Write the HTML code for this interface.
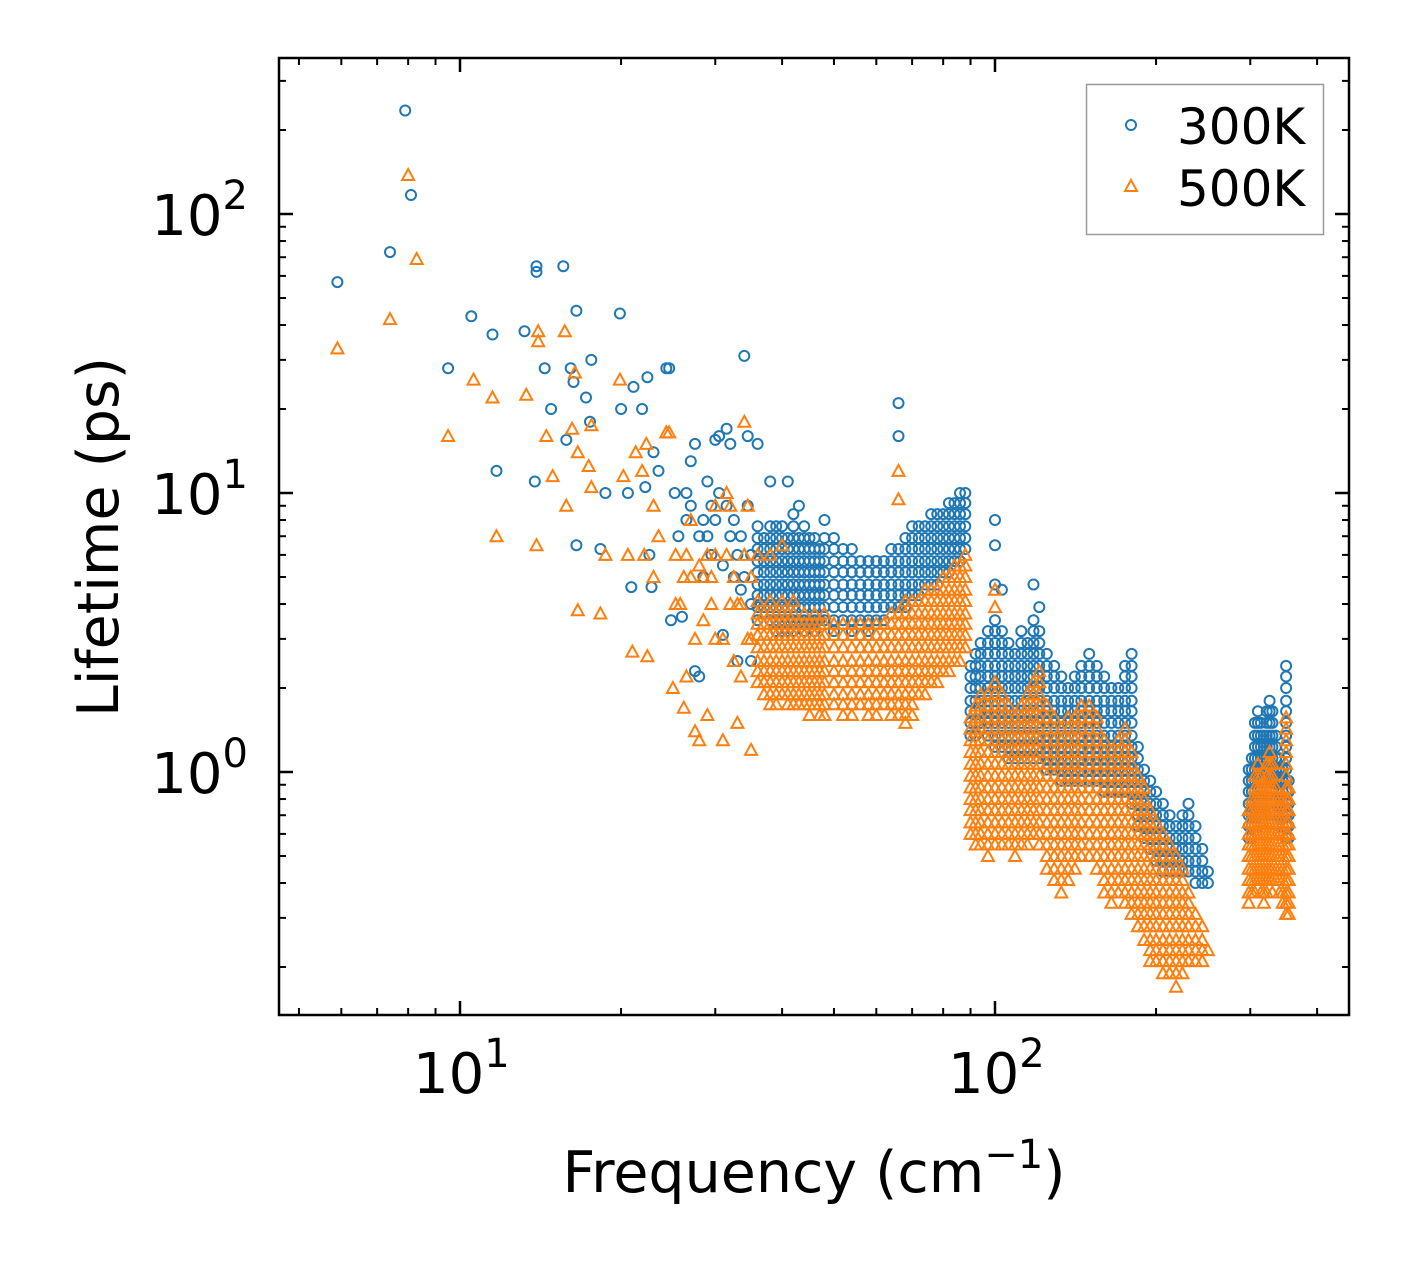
<!DOCTYPE html>
<html><head><meta charset="utf-8">
<style>
html,body{margin:0;padding:0;background:#fff;}
svg{display:block;font-family:"DejaVu Sans","Liberation Sans",sans-serif;}
</style></head>
<body>
<svg id="chart" width="1408" height="1265" viewBox="0 0 1408 1265" xmlns="http://www.w3.org/2000/svg">
<rect width="1408" height="1265" fill="#fff"/>
<g id="marks"></g>
<g id="axes"></g>
<g>
<rect x="1086.5" y="84.5" width="237" height="150" fill="#fff" fill-opacity="0.8" stroke="#999" stroke-width="1.5"/>
<circle cx="1131" cy="125" r="5" fill="none" stroke="#1f77b4" stroke-width="2"/>
<text x="1177" y="144" font-size="50">300K</text>
<path d="M1131,180 L1137,191 L1125,191 Z" fill="none" stroke="#ff7f0e" stroke-width="2"/>
<text x="1177" y="206" font-size="50">500K</text>
</g>
<text x="814" y="1192" font-size="57" text-anchor="middle">Frequency (cm<tspan dy="-24" font-size="40">−1</tspan><tspan dy="24">)</tspan></text>
<text transform="translate(118,537) rotate(-90)" font-size="57" text-anchor="middle">Lifetime (ps)</text>
</svg>
<script>
// Data: [frequency (cm^-1), [lifetimes (ps)...]]
const series300 = [
[5.9,[57]],[7.4,[73]],[7.9,[235]],[8.1,[117]],[9.5,[28]],[10.5,[43]],[11.5,[37]],[11.7,[12]],
[13.2,[38]],[13.8,[11]],[13.9,[65,62]],[14.4,[28]],[14.8,[20]],[15.6,[65]],[15.8,[15.5]],[16.1,[28]],
[16.3,[25]],[16.5,[45,6.5]],[17.2,[22]],[17.5,[18]],[17.6,[30]],[18.3,[6.3]],[18.7,[10]],[19.9,[44]],
[20,[20]],[20.6,[10]],[20.9,[4.6]],[21.1,[24]],[21.9,[20]],[22.2,[10.5]],[22.4,[26]],[22.6,[6]],[22.8,[4.6]],
[23,[14]],[23.5,[12]],[24.3,[28]],[24.6,[28]],[24.8,[3.5]],[25.2,[10]],[25.6,[7]],[26,[3.6]],[26.5,[10,8]],
[27,[13,9]],[27.5,[15,2.3]],[28,[2.2,7]],[28.5,[8,5]],[29,[11,7]],[29.5,[9,6]],[30,[15.5,8]],[30.5,[16,10]],
[31,[3.1,5.5]],[31.5,[17,9]],[32,[15,7]],[32.5,[8,5]],[33,[2.5,6]],[33.5,[7,4.5]],[34,[31,5]],[34.5,[16,9]],
[35,[6,4,2.5]],
[36,[3.5,3.9,4.3,4.7,5.2,5.7,6.3,6.9,7.6,15]],[37,[3.9,4.3,4.7,5.2,5.7,6.3,6.9]],
[38,[3.5,3.9,4.3,4.7,5.2,5.7,6.3,6.9,7.6,11]],[39,[3.2,3.5,3.9,4.3,4.7,5.2,5.7,6.3,6.9,7.6]],
[40,[3.2,3.5,3.9,4.3,4.7,5.2,5.7,6.3,6.9,7.6]],[41,[3.2,3.5,3.9,4.3,4.7,5.2,5.7,6.3,6.9,11]],
[42,[3.2,3.5,3.9,4.3,4.7,5.2,5.7,6.3,6.9,7.6,8.4]],[43,[3.5,3.9,4.3,4.7,5.2,5.7,6.3,6.9,9]],
[44,[3.2,3.5,3.9,4.3,4.7,5.2,5.7,6.3,6.9,7.6]],[45,[3.5,3.9,4.3,4.7,5.2,5.7,6.3,6.9]],
[46,[3.2,3.5,3.9,4.3,4.7,5.2,5.7,6.3,6.9]],[47,[3.5,3.9,4.3,4.7,5.2,5.7,6.3]],
[48,[3.5,3.9,4.3,4.7,5.2,5.7,6.3,6.9,8]],[50,[3.2,3.5,3.9,4.3,4.7,5.2,5.7,6.3,6.9]],
[52,[3.5,3.9,4.3,4.7,5.2,5.7,6.3]],[54,[3.2,3.5,3.9,4.3,4.7,5.2,5.7,6.3]],
[56,[3.5,3.9,4.3,4.7,5.2,5.7]],[58,[3.2,3.5,3.9,4.3,4.7,5.2,5.7]],[60,[3.5,3.9,4.3,4.7,5.2,5.7]],
[62,[3.5,3.9,4.3,4.7,5.2,5.7]],[64,[3.9,4.3,4.7,5.2,5.7,6.3]],[66,[3.9,4.3,4.7,5.2,5.7,6.3,16,21]],
[68,[3.9,4.3,4.7,5.2,5.7,6.3,6.9]],[70,[4.3,4.7,5.2,5.7,6.3,6.9,7.6]],[72,[4.3,4.7,5.2,5.7,6.3,6.9,7.6]],
[74,[4.7,5.2,5.7,6.3,6.9,7.6]],[76,[4.7,5.2,5.7,6.3,6.9,7.6,8.4]],[78,[4.7,5.2,5.7,6.3,6.9,7.6,8.4]],
[80,[5.2,5.7,6.3,6.9,7.6,8.4]],[82,[5.2,5.7,6.3,6.9,7.6,8.4,9.2]],[84,[5.7,6.3,6.9,7.6,8.4,9.2]],
[86,[5.7,6.3,6.9,7.6,8.4,9.2,10]],[88,[6.3,6.9,7.6,8.4,9.2,10]],
[90,[1.35,1.5,1.65,1.8,2,2.2,2.4]],[92,[1.35,1.5,1.65,1.8,2,2.2,2.4,2.65]],
[94,[1.5,1.65,1.8,2,2.2,2.4,2.65,2.9]],[97,[1.35,1.5,1.65,1.8,2,2.2,2.4,2.65,2.9,3.2]],
[100,[1.23,1.35,1.5,1.65,1.8,2,2.2,2.4,2.65,2.9,3.2,3.5,4.7,6.5,8]],
[103,[1.23,1.35,1.5,1.65,1.8,2,2.2,2.4,2.65,2.9,3.2,4.5]],[106,[1.12,1.23,1.35,1.5,1.65,1.8,2,2.2,2.4,2.65,2.9]],
[109,[1.12,1.23,1.35,1.5,1.65,1.8,2,2.2,2.4,2.65]],[112,[1.12,1.23,1.35,1.5,1.65,1.8,2,2.2,2.4,2.65,2.9,3.2]],
[115,[1.12,1.23,1.35,1.5,1.65,1.8,2,2.2,2.4,2.65,2.9]],[118,[1.12,1.23,1.35,1.5,1.65,1.8,2,2.2,2.4,2.65,2.9,3.2,3.5,4.7]],
[121,[1.12,1.23,1.35,1.5,1.65,1.8,2,2.2,2.4,2.65,2.9,3.2,3.9]],[125,[1.02,1.12,1.23,1.35,1.5,1.65,1.8,2,2.2,2.4,2.65]],
[129,[1.02,1.12,1.23,1.35,1.5,1.65,1.8,2,2.2,2.4]],[133,[0.93,1.02,1.12,1.23,1.35,1.5,1.65,1.8,2,2.2]],
[137,[0.93,1.02,1.12,1.23,1.35,1.5,1.65,1.8,2]],[141,[0.93,1.02,1.12,1.23,1.35,1.5,1.65,1.8,2,2.2]],
[145,[0.93,1.02,1.12,1.23,1.35,1.5,1.65,1.8,2,2.2,2.4]],[150,[0.93,1.02,1.12,1.23,1.35,1.5,1.65,1.8,2,2.2,2.4,2.65]],
[155,[0.93,1.02,1.12,1.23,1.35,1.5,1.65,1.8,2,2.2,2.4]],[160,[0.85,0.93,1.02,1.12,1.23,1.35,1.5,1.65,1.8,2,2.2]],
[165,[0.85,0.93,1.02,1.12,1.23,1.35,1.5,1.65,1.8,2]],[170,[0.85,0.93,1.02,1.12,1.23,1.35,1.5,1.65,1.8,2]],
[175,[0.85,0.93,1.02,1.12,1.23,1.35,1.5,1.65,1.8,2,2.2,2.4]],[180,[0.77,0.85,0.93,1.02,1.12,1.23,1.35,1.5,1.65,1.8,2,2.2,2.4,2.65]],
[185,[0.64,0.7,0.77,0.85,0.93,1.02,1.12,1.23]],[190,[0.58,0.64,0.7,0.77,0.85,0.93,1.02]],
[195,[0.53,0.58,0.64,0.7,0.77,0.85,0.93]],[200,[0.48,0.53,0.58,0.64,0.7,0.77,0.85]],
[206,[0.44,0.48,0.53,0.58,0.64,0.7,0.77]],[212,[0.44,0.48,0.53,0.58,0.64,0.7]],
[218,[0.44,0.48,0.53,0.58,0.64]],[224,[0.44,0.48,0.53,0.58,0.64,0.7]],[230,[0.44,0.48,0.53,0.58,0.64,0.7,0.77]],
[237,[0.4,0.44,0.48,0.53,0.58,0.64]],[244,[0.4,0.44,0.48,0.53]],[250,[0.4,0.44]],
[298,[0.58,0.64,0.7,0.77,0.85,0.93,1.02]],[302,[0.58,0.64,0.7,0.77,0.85,0.93,1.02,1.12]],
[306,[0.64,0.7,0.77,0.85,0.93,1.02,1.12,1.23,1.35,1.5]],[310,[0.64,0.7,0.77,0.85,0.93,1.02,1.12,1.23,1.35,1.5,1.65]],
[314,[0.7,0.77,0.85,0.93,1.02,1.12,1.23,1.35,1.5]],[318,[0.7,0.77,0.85,0.93,1.02,1.12,1.23,1.35]],
[322,[0.7,0.77,0.85,0.93,1.02,1.12,1.23,1.35,1.5,1.65]],[326,[0.77,0.85,0.93,1.02,1.12,1.23,1.35,1.5,1.65,1.8]],
[330,[0.77,0.85,0.93,1.02,1.12,1.23,1.35,1.5,1.65]],[335,[0.7,0.77,0.85,0.93,1.02,1.12,1.23,1.35]],
[340,[0.64,0.7,0.77,0.85,0.93,1.02,1.12]],[345,[0.64,0.7,0.77,0.85,0.93,1.02]],
[350,[0.58,0.64,0.7,0.77,0.85,0.93,1.02,1.12,1.23,1.35,1.5,1.65,1.8,2,2.2,2.4]],[354,[0.58,0.64,0.7,0.77,0.85,0.93]]
];
const series500 = [
[5.9,[33]],[7.4,[42]],[8,[138]],[8.3,[69]],[9.5,[16]],[10.6,[25.5]],[11.5,[22]],[11.7,[7]],
[13.3,[22.5]],[13.9,[6.5]],[14,[38,35]],[14.5,[16]],[14.9,[11.5]],[15.7,[38]],[15.8,[9]],[16.2,[17]],
[16.4,[27]],[16.6,[14,3.8]],[17.4,[12.5]],[17.6,[17.5,10.5]],[18.3,[3.7]],[18.7,[6]],[19.9,[25.5]],
[20.2,[11.5]],[20.6,[6]],[21,[2.7]],[21.3,[14]],[21.9,[12]],[22.1,[6]],[22.3,[15]],[22.4,[2.6]],
[23,[9,5]],[23.5,[7]],[24.3,[16.5]],[24.6,[16.5]],[25,[2]],[25.3,[6,4]],[25.8,[4]],[26.2,[1.7,5]],
[26.5,[6,2.2]],[27,[8,5]],[27.5,[1.4,3]],[28,[1.3,5.5]],[28.5,[5,3.5]],[29,[6,1.6]],[29.5,[4,5]],
[30,[9,6,3]],[31,[1.3,3]],[31.5,[10,6]],[32,[9,4]],[32.5,[5,2.5]],[33,[1.5,4]],[33.5,[4,2.2]],
[34,[18,6]],[34.5,[9,3]],[35,[3,1.2,5]],
[36,[2.1,2.3,2.5,2.8,3.1,3.4,3.7,4.1,6]],[37,[1.9,2.1,2.3,2.5,2.8,3.1,3.4,3.7]],
[38,[1.75,1.9,2.1,2.3,2.5,2.8,3.1,3.4,3.7,4.1,6]],[39,[1.75,1.9,2.1,2.3,2.5,2.8,3.1,3.4,3.7]],
[40,[1.9,2.1,2.3,2.5,2.8,3.1,3.4,3.7,4.1,6.5]],[41,[1.75,1.9,2.1,2.3,2.5,2.8,3.1,3.4,3.7]],
[42,[1.75,1.9,2.1,2.3,2.5,2.8,3.1,3.4,3.7,4.1]],[43,[1.75,1.9,2.1,2.3,2.5,2.8,3.1,3.4]],
[44,[1.75,1.9,2.1,2.3,2.5,2.8,3.1,3.4,3.7]],[45,[1.6,1.75,1.9,2.1,2.3,2.5,2.8,3.1,3.4]],
[46,[1.75,1.9,2.1,2.3,2.5,2.8,3.1,3.4,3.7]],[47,[1.6,1.75,1.9,2.1,2.3,2.5,2.8,3.1,3.4]],
[48,[1.6,1.75,1.9,2.1,2.3,2.5,2.8,3.1,3.4,3.7]],[50,[1.75,1.9,2.1,2.3,2.5,2.8,3.1,3.4]],
[52,[1.6,1.75,1.9,2.1,2.3,2.5,2.8,3.1,3.4]],[54,[1.6,1.75,1.9,2.1,2.3,2.5,2.8,3.1,3.4]],
[56,[1.75,1.9,2.1,2.3,2.5,2.8,3.1,3.4]],[58,[1.6,1.75,1.9,2.1,2.3,2.5,2.8,3.1,3.4]],
[60,[1.6,1.75,1.9,2.1,2.3,2.5,2.8,3.1,3.4]],[62,[1.75,1.9,2.1,2.3,2.5,2.8,3.1,3.4]],
[64,[1.6,1.75,1.9,2.1,2.3,2.5,2.8,3.1,3.4,3.7]],[66,[1.6,1.75,1.9,2.1,2.3,2.5,2.8,3.1,3.4,3.7,9.5,12]],
[68,[1.5,1.6,1.75,1.9,2.1,2.3,2.5,2.8,3.1,3.4,3.7,4.1]],[70,[1.6,1.75,1.9,2.1,2.3,2.5,2.8,3.1,3.4,3.7,4.1]],
[72,[1.9,2.1,2.3,2.5,2.8,3.1,3.4,3.7,4.1]],[74,[1.9,2.1,2.3,2.5,2.8,3.1,3.4,3.7,4.1,4.5]],
[76,[2.1,2.3,2.5,2.8,3.1,3.4,3.7,4.1,4.5]],[78,[2.1,2.3,2.5,2.8,3.1,3.4,3.7,4.1,4.5]],
[80,[2.3,2.5,2.8,3.1,3.4,3.7,4.1,4.5,5]],[82,[2.3,2.5,2.8,3.1,3.4,3.7,4.1,4.5,5]],
[84,[2.5,2.8,3.1,3.4,3.7,4.1,4.5,5,5.5]],[86,[2.5,2.8,3.1,3.4,3.7,4.1,4.5,5,5.5]],
[88,[2.8,3.1,3.4,3.7,4.1,4.5,5,5.5,6]],
[90,[0.6,0.66,0.73,0.8,0.88,0.97,1.07,1.18,1.3,1.43,1.57]],[92,[0.55,0.6,0.66,0.73,0.8,0.88,0.97,1.07,1.18,1.3,1.43,1.57,1.73]],
[94,[0.55,0.6,0.66,0.73,0.8,0.88,0.97,1.07,1.18,1.3,1.43,1.57,1.73,1.9]],
[97,[0.5,0.55,0.6,0.66,0.73,0.8,0.88,0.97,1.07,1.18,1.3,1.43,1.57,1.73,1.9]],
[100,[0.55,0.6,0.66,0.73,0.8,0.88,0.97,1.07,1.18,1.3,1.43,1.57,1.73,1.9,2.1,3.9,4.5]],
[103,[0.55,0.6,0.66,0.73,0.8,0.88,0.97,1.07,1.18,1.3,1.43,1.57,1.73,1.9]],
[106,[0.55,0.6,0.66,0.73,0.8,0.88,0.97,1.07,1.18,1.3,1.43,1.57,1.73]],
[109,[0.5,0.55,0.6,0.66,0.73,0.8,0.88,0.97,1.07,1.18,1.3,1.43,1.57]],
[112,[0.55,0.6,0.66,0.73,0.8,0.88,0.97,1.07,1.18,1.3,1.43,1.57,1.73]],
[115,[0.55,0.6,0.66,0.73,0.8,0.88,0.97,1.07,1.18,1.3,1.43,1.57,1.73,1.9]],
[118,[0.6,0.66,0.73,0.8,0.88,0.97,1.07,1.18,1.3,1.43,1.57,1.73,1.9,2.1]],
[121,[0.55,0.6,0.66,0.73,0.8,0.88,0.97,1.07,1.18,1.3,1.43,1.57,1.73,1.9,2.1,2.3]],
[125,[0.45,0.5,0.55,0.6,0.66,0.73,0.8,0.88,0.97,1.07,1.18,1.3,1.43,1.57,1.73]],
[129,[0.41,0.45,0.5,0.55,0.6,0.66,0.73,0.8,0.88,0.97,1.07,1.18,1.3,1.43,1.57]],
[133,[0.37,0.41,0.45,0.5,0.55,0.6,0.66,0.73,0.8,0.88,0.97,1.07,1.18,1.3,1.43]],
[137,[0.41,0.45,0.5,0.55,0.6,0.66,0.73,0.8,0.88,0.97,1.07,1.18,1.3,1.43,1.57]],
[141,[0.45,0.5,0.55,0.6,0.66,0.73,0.8,0.88,0.97,1.07,1.18,1.3,1.43,1.57]],
[145,[0.5,0.55,0.6,0.66,0.73,0.8,0.88,0.97,1.07,1.18,1.3,1.43,1.57,1.73]],
[150,[0.5,0.55,0.6,0.66,0.73,0.8,0.88,0.97,1.07,1.18,1.3,1.43,1.57,1.73]],
[155,[0.45,0.5,0.55,0.6,0.66,0.73,0.8,0.88,0.97,1.07,1.18,1.3,1.43,1.57]],
[160,[0.37,0.41,0.45,0.5,0.55,0.6,0.66,0.73,0.8,0.88,0.97,1.07,1.18,1.3]],
[165,[0.34,0.37,0.41,0.45,0.5,0.55,0.6,0.66,0.73,0.8,0.88,0.97,1.07,1.18]],
[170,[0.37,0.41,0.45,0.5,0.55,0.6,0.66,0.73,0.8,0.88,0.97,1.07,1.18,1.3]],
[175,[0.34,0.37,0.41,0.45,0.5,0.55,0.6,0.66,0.73,0.8,0.88,0.97,1.07,1.18,1.3,1.43]],
[180,[0.31,0.34,0.37,0.41,0.45,0.5,0.55,0.6,0.66,0.73,0.8,0.88,0.97,1.07,1.18]],
[185,[0.28,0.31,0.34,0.37,0.41,0.45,0.5,0.55,0.6,0.66,0.73,0.8,0.88,0.97]],
[190,[0.25,0.28,0.31,0.34,0.37,0.41,0.45,0.5,0.55,0.6,0.66,0.73,0.8,0.88]],
[195,[0.21,0.23,0.25,0.28,0.31,0.34,0.37,0.41,0.45,0.5,0.55,0.6,0.66,0.73]],
[200,[0.21,0.23,0.25,0.28,0.31,0.34,0.37,0.41,0.45,0.5,0.55,0.6,0.66]],
[206,[0.19,0.21,0.23,0.25,0.28,0.31,0.34,0.37,0.41,0.45,0.5,0.55,0.6]],
[212,[0.19,0.21,0.23,0.25,0.28,0.31,0.34,0.37,0.41,0.45,0.5,0.55]],
[218,[0.17,0.19,0.21,0.23,0.25,0.28,0.31,0.34,0.37,0.41,0.45,0.5]],
[224,[0.19,0.21,0.23,0.25,0.28,0.31,0.34,0.37,0.41,0.45]],
[230,[0.21,0.23,0.25,0.28,0.31,0.34,0.37]],[237,[0.21,0.23,0.25,0.28,0.31]],
[244,[0.21,0.23,0.25,0.28]],[250,[0.23]],
[298,[0.34,0.37,0.41,0.45,0.5,0.55,0.6,0.66,0.73]],[302,[0.37,0.41,0.45,0.5,0.55,0.6,0.66,0.73,0.8]],
[306,[0.37,0.41,0.45,0.5,0.55,0.6,0.66,0.73,0.8,0.88,0.97]],[310,[0.41,0.45,0.5,0.55,0.6,0.66,0.73,0.8,0.88,0.97,1.07]],
[314,[0.37,0.41,0.45,0.5,0.55,0.6,0.66,0.73,0.8,0.88,0.97]],[318,[0.34,0.37,0.41,0.45,0.5,0.55,0.6,0.66,0.73,0.8,0.88]],
[322,[0.37,0.41,0.45,0.5,0.55,0.6,0.66,0.73,0.8,0.88,0.97,1.07]],[326,[0.41,0.45,0.5,0.55,0.6,0.66,0.73,0.8,0.88,0.97,1.07,1.18]],
[330,[0.37,0.41,0.45,0.5,0.55,0.6,0.66,0.73,0.8,0.88,0.97,1.07]],[335,[0.41,0.45,0.5,0.55,0.6,0.66,0.73,0.8,0.88]],
[340,[0.37,0.41,0.45,0.5,0.55,0.6,0.66,0.73,0.8]],[345,[0.34,0.37,0.41,0.45,0.5,0.55,0.6,0.66,0.73,0.8]],
[350,[0.31,0.34,0.37,0.41,0.45,0.5,0.55,0.6,0.66,0.73,0.8,0.88,0.97,1.07,1.18,1.3,1.43,1.57]],
[354,[0.31,0.34,0.37,0.41,0.45,0.5,0.55,0.6,0.66,0.73,0.8,0.88]]
];
const xMajorTicks = [10,100];
const xMinorTicks = [5,6,7,8,9,20,30,40,50,60,70,80,90,200,300,400];
const yMajorTicks = [1,10,100];
const yMinorTicks = [0.2,0.3,0.4,0.5,0.6,0.7,0.8,0.9,2,3,4,5,6,7,8,9,20,30,40,50,60,70,80,90,200,300];
const xTickLabels = ["1","2"];
const yTickLabels = ["0","1","2"];

const L=279,R=1349,T=58,B=1015;
function xs(f){return 460+535*(Math.log10(f)-1);}
function ys(v){return 772-279*Math.log10(v);}
const NS="http://www.w3.org/2000/svg";
const marks=document.getElementById('marks');
const axes=document.getElementById('axes');
function mk(tag,attrs,parent){const e=document.createElementNS(NS,tag);for(const k in attrs)e.setAttribute(k,attrs[k]);parent.appendChild(e);return e;}

const g3=mk('g',{},marks);


series300.forEach(([f,vals])=>vals.forEach(v=>{
  const c=mk('circle',{cx:xs(f).toFixed(1),cy:ys(v).toFixed(1),r:5,fill:'none',stroke:'#1f77b4','stroke-width':2},g3);
  
  
}));
const g5=mk('g',{},marks);


series500.forEach(([f,vals])=>vals.forEach(v=>{
  const x=xs(f),y=ys(v);
  const p=mk('path',{d:`M${x},${y-6} L${x+6},${y+5} L${x-6},${y+5} Z`,fill:'none',stroke:'#ff7f0e','stroke-width':2},g5);
  
  
}));

const frame=mk('rect',{x:L,y:T,width:R-L,height:B-T,fill:'none',stroke:'#000','stroke-width':2.5},axes);


function tick(x1,y1,x2,y2,w){const t=mk('line',{x1,y1,x2,y2,stroke:'#000','stroke-width':w},axes);
  
  }
xMajorTicks.forEach((f,i)=>{const x=xs(f);tick(x,B,x,B-14,2.5);tick(x,T,x,T+14,2.5);
  const t=mk('text',{x:x-47,y:1093,'font-size':56},axes);
  t.innerHTML='10<tspan dy="-26" font-size="40">'+xTickLabels[i]+'</tspan>';
  
  });
xMinorTicks.forEach(f=>{const x=xs(f);if(x<L||x>R)return;tick(x,B,x,B-7,2);tick(x,T,x,T+7,2);});
yMajorTicks.forEach((v,i)=>{const y=ys(v);tick(L,y,L+14,y,2.5);tick(R,y,R-14,y,2.5);
  const t=mk('text',{x:248,y:y+21,'font-size':56,'text-anchor':'end'},axes);
  t.innerHTML='10<tspan dy="-26" font-size="40">'+yTickLabels[i]+'</tspan>';
  
  });
yMinorTicks.forEach(v=>{const y=ys(v);if(y<T||y>B)return;tick(L,y,L+7,y,2);tick(R,y,R-7,y,2);});
</script>
</body></html>
